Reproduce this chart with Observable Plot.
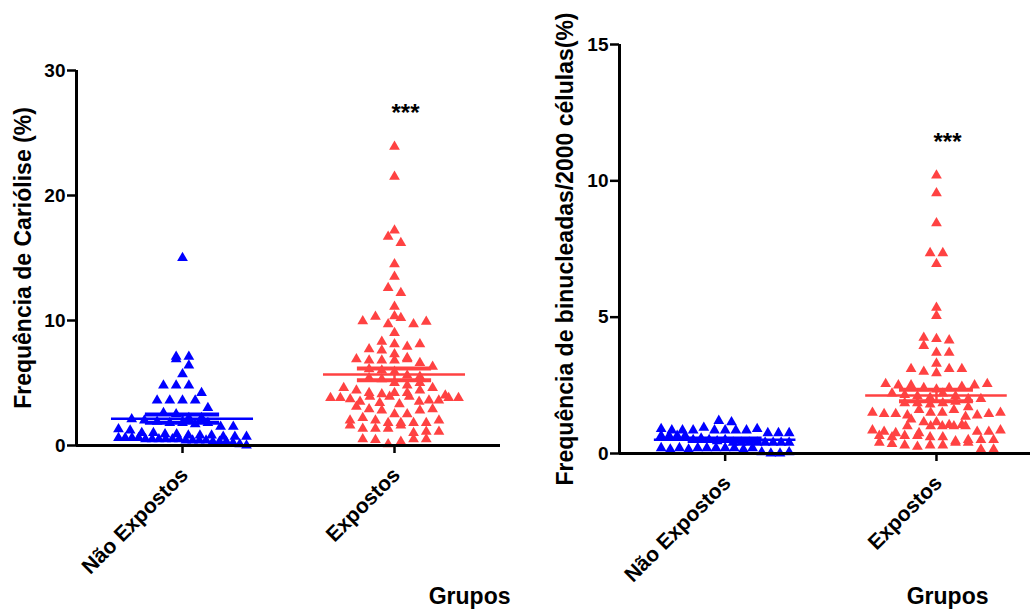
<!DOCTYPE html>
<html>
<head>
<meta charset="utf-8">
<script src="https://cdn.jsdelivr.net/npm/d3@7"></script>
<script src="https://cdn.jsdelivr.net/npm/@observablehq/plot@0.6"></script>
<style>
  body { margin: 0; background: #fff; }
  #wrap { position: relative; width: 1030px; height: 610px; overflow: hidden; background: #fff; }
  #left, #right { position: absolute; top: 0; }
  #left { left: 0; }
  #right { left: 515px; }
</style>
</head>
<body>
<div id="wrap"><div id="left"></div><div id="right"></div></div>
<script>
// ---------- data ----------
const groups = ["Não Expostos", "Expostos"];
const colors = ["#0000ff", "#ff4242"];

const cariolNaoExpostos = [15.0, 7.1, 6.9, 7.1, 6.4, 5.7, 4.8, 4.8, 4.8, 4.2, 3.6, 3.6, 3.6, 3.6, 3.0,
  2.6, 2.5, 2.2, 2.1, 2.2, 2.0, 1.9, 1.8, 1.8, 1.7, 1.8, 1.5, 1.5, 1.3, 1.2, 1.0, 1.0, 0.9, 0.9,
  0.8, 0.8, 0.8, 0.7, 0.7, 0.7, 0.6, 0.6, 0.6, 0.6, 0.5, 0.5, 0.5, 0.5, 0.5, 0.5,
  0.4, 0.4, 0.4, 0.4, 0.3, 0.3, 0.3, 0.2, 0.1, 0.0];

const cariolExpostos = [23.9, 21.5, 17.2, 16.7, 16.2, 14.5, 13.5, 12.6, 12.2, 11.1,
  9.95, 10.3, 9.7, 10.2, 10.35, 9.7, 9.9, 9.0,
  7.7, 8.3, 8.1, 7.9, 8.1, 7.6, 7.3,
  6.9, 6.8, 6.8, 6.8, 6.9, 7.0, 6.6,
  6.3, 6.1, 6.0, 5.9, 5.6, 5.5, 5.4, 5.3,
  5.0, 4.8, 4.6, 4.4, 4.2, 4.1, 4.2, 4.2, 4.4, 4.6, 5.0,
  3.8, 3.8, 3.7, 3.5, 3.9, 3.4, 3.9, 3.3, 3.9, 3.5, 4.0, 3.6, 3.6, 3.8, 3.8, 3.1,
  2.9, 2.8, 2.5, 2.5, 2.8, 2.9, 2.0, 2.2, 2.0,
  1.8, 1.8, 1.6, 1.35, 1.35, 1.35, 1.6, 1.8, 1.8, 2.0, 1.0, 1.1, 1.1,
  0.5, 0.45, 0.1, 0.3, 0.5, 0.5];

const binucNaoExpostos = [1.2, 1.15,
  0.9, 0.85, 0.85, 0.85, 0.95, 0.85, 0.85, 0.85, 0.85, 0.9,
  0.75, 0.65, 0.65, 0.75, 0.65, 0.65, 0.75,
  0.5, 0.55, 0.5, 0.45, 0.5,
  0.4, 0.4, 0.4, 0.4, 0.4, 0.4, 0.4, 0.4,
  0.2, 0.15, 0.2, 0.15, 0.2, 0.2, 0.2, 0.2, 0.2, 0.15, 0.2,
  0.05, 0.0, 0.0, 0.05];

const binucExpostos = [10.2, 9.55, 8.45, 7.35, 7.35, 6.95, 5.35, 5.05, 4.25, 4.2, 4.15, 3.95,
  3.7, 3.7, 3.3, 3.1, 3.0, 2.95, 3.1, 3.1,
  2.55, 2.5, 2.5, 2.4, 2.35, 2.4, 2.45, 2.5, 2.55,
  2.2, 2.15, 2.1, 2.05, 2.2, 2.1,
  2.0, 1.85, 1.85, 1.8, 1.85, 1.9, 2.0,
  1.5, 1.45, 1.45, 1.4, 1.6, 1.5, 1.5, 1.7, 1.6, 1.35, 1.4, 1.45, 1.5,
  1.25, 1.15, 1.15, 1.05,
  0.85, 0.8, 0.75, 1.05, 1.0, 0.75, 1.0, 1.0, 1.0, 1.0, 0.8, 0.8, 0.85,
  0.65, 0.6, 0.65, 0.65, 0.6, 0.6,
  0.45, 0.4, 0.35, 0.3, 0.25, 0.5, 0.5, 0.5, 0.3, 0.3, 0.4, 0.4, 0.15, 0.15];

const cariolTicks = [0, 10, 20, 30];
const binucTicks = [0, 5, 10, 15];
const yTitleCariol = "Frequência de Cariólise (%)";
const yTitleBinuc = "Frequência de binucleadas/2000 células(%)";
const xTitle = "Grupos";
const sigLabel = "***";
const sigCariol = [26.6];
const sigBinuc = [11.4];

// ---------- layout helpers (GraphPad-like scatter rows) ----------
const FONT = "'Liberation Sans', Arial, Helvetica, sans-serif";
function arrange(values, gi, pxPerX, pxPerY) {
  const S = 12.7, W = 128, H = 8;
  const items = values.map((v, idx) => ({v, idx}));
  const sorted = items.slice().sort((a, b) => a.v - b.v || a.idx - b.idx);
  const bins = [];
  let cur = null;
  for (const it of sorted) {
    if (!cur || (it.v - cur.start) * pxPerY >= H - 1e-9) {
      cur = {start: it.v, items: []};
      bins.push(cur);
    }
    cur.items.push(it);
  }
  const out = [];
  for (const b of bins) {
    b.items.sort((a, c) => a.idx - c.idx);
    const n = b.items.length;
    const sp = n > 1 ? Math.min(S, W / (n - 1)) : 0;
    b.items.forEach((it, i) => out.push({g: gi, value: it.v, x: gi + ((i - (n - 1) / 2) * sp) / pxPerX}));
  }
  return out;
}

function panel(el, cfg) {
  const {vals, ticks, ymax, yTitle, sig, width, height, ml, mr, mt, mb, xDomain, titleDx, grDx, grDy} = cfg;
  const pxPerX = (width - ml - mr) / (xDomain[1] - xDomain[0]);
  const pxPerY = (height - mt - mb) / ymax;
  const pts = vals.flatMap((v, gi) => arrange(v, gi, pxPerX, pxPerY));
  const stats = vals.map((v, gi) => {
    const m = d3.mean(v), se = d3.deviation(v) / Math.sqrt(v.length);
    return {g: gi, mean: m, lo: m - se, hi: m + se};
  });
  const col = d => colors[d.g];
  const chart = Plot.plot({
    width, height,
    marginLeft: ml, marginRight: mr, marginTop: mt, marginBottom: mb,
    style: {fontFamily: FONT, fontWeight: "bold", color: "#000", background: "transparent", overflow: "visible"},
    x: {domain: xDomain, axis: null},
    y: {domain: [0, ymax], axis: null},
    marks: [
      Plot.dot(pts, {x: "x", y: "value", symbol: "triangle", r: 4, fill: col, stroke: "none"}),
      Plot.ruleX(stats, {x: "g", y1: "lo", y2: "hi", stroke: col, strokeWidth: 2.5}),
      Plot.ruleY(stats, {y: "mean", x1: d => d.g - 0.335, x2: d => d.g + 0.335, stroke: col, strokeWidth: 2.5}),
      Plot.ruleY(stats, {y: "hi", x1: d => d.g - 0.175, x2: d => d.g + 0.175, stroke: col, strokeWidth: 4}),
      Plot.ruleY(stats, {y: "lo", x1: d => d.g - 0.175, x2: d => d.g + 0.175, stroke: col, strokeWidth: 4}),
      Plot.ruleY([0], {x1: xDomain[0], x2: xDomain[1], stroke: "#000", strokeWidth: 3}),
      Plot.ruleX([xDomain[0]], {y1: 0, y2: ymax, stroke: "#000", strokeWidth: 3}),
      Plot.axisY({ticks, tickSize: 9, tickFormat: () => "", strokeWidth: 2.5, label: null}),
      Plot.text(ticks, {x: xDomain[0], y: d => d, text: d => String(d), textAnchor: "end",
        lineAnchor: "middle", dx: -11, fontSize: 19, fontWeight: "bold"}),
      Plot.axisX({ticks: [0, 1], tickSize: 8, tickFormat: () => "", strokeWidth: 2.5, label: null}),
      Plot.text([0, 1], {x: d => d, frameAnchor: "bottom", text: d => groups[d], rotate: -45,
        textAnchor: "end", lineAnchor: "middle", dy: 26, dx: 2, fontSize: 21, fontWeight: "bold"}),
      Plot.text([yTitle], {frameAnchor: "left", rotate: -90, dx: titleDx, textAnchor: "middle",
        lineAnchor: "middle", fontSize: 23, fontWeight: "bold"}),
      Plot.text([xTitle], {frameAnchor: "bottom-right", textAnchor: "end", lineAnchor: "bottom",
        dx: grDx, dy: grDy, fontSize: 23, fontWeight: "bold"}),
      Plot.text(sig, {x: 1, y: d => d, text: () => sigLabel, dx: 11, textAnchor: "middle",
        lineAnchor: "middle", fontSize: 24, fontWeight: "bold"})
    ]
  });
  document.getElementById(el).appendChild(chart);
}

panel("left", {
  vals: [cariolNaoExpostos, cariolExpostos], ticks: cariolTicks, ymax: 30, yTitle: yTitleCariol, sig: sigCariol,
  width: 515, height: 610, ml: 76, mr: 15, mt: 70, mb: 165, xDomain: [-0.5, 1.5],
  titleDx: -53, grDx: 10, grDy: 158
});
panel("right", {
  vals: [binucNaoExpostos, binucExpostos], ticks: binucTicks, ymax: 15, yTitle: yTitleBinuc, sig: sigBinuc,
  width: 515, height: 610, ml: 104, mr: 0, mt: 44, mb: 157, xDomain: [-0.5, 1.445],
  titleDx: -54, grDx: -42, grDy: 150
});
</script>
</body>
</html>
